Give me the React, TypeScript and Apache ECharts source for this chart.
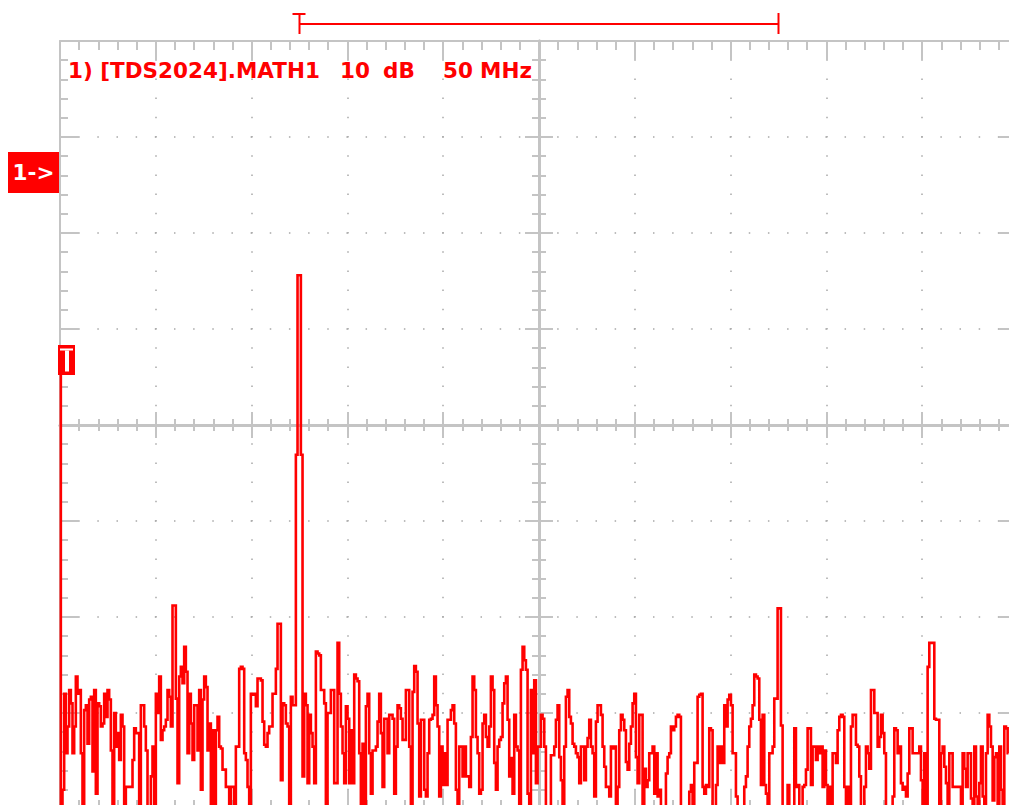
import React, { useEffect, useRef } from 'react';
import * as echarts from 'echarts';

// ---- axis ranges (10 dB/div vertical, 50 MHz/div horizontal) ----
const X_MIN_MHZ = 0;
const X_MAX_MHZ = 500;
const X_DIV_MHZ = 50;
const Y_MIN_DB = -80;
const Y_MAX_DB = 0;
const Y_DIV_DB = 10;
const BIN_MHZ = 0.87; // spacing of the spectrum bins

// ---- FFT magnitude (dB), left to right ----
const seg1 = [
  -32.7, -80, -78, -68.0, -74.2, -71.4, -67.6, -69.0, -74.2, -71.4,
  -66.2, -68.0, -67.6, -74.2, -80, -69.7, -69.2, -73.2, -68.6, -68.3,
  -76.1, -67.6, -78.4, -69.0, -69.3, -71.4, -71.1, -68.0, -70.4, -67.6,
  -68.6, -73.9, -80, -70.0, -73.5, -72.1, -74.9, -70.2, -71.4, -80,
  -77.7, -77.7, -77.7, -77.7, -74.9, -71.6, -72.1, -72.1, -80, -69.2,
  -69.2, -71.4, -73.9, -80, -80, -76.6, -73.5, -80, -68.0, -70.0,
  -66.2, -72.8, -71.8, -71.4, -70.7, -67.6, -68.3, -71.4, -58.8, -58.8,
  -68.5, -77.3, -66.2, -65.2, -66.9, -63.1, -65.7, -74.2, -68.0, -71.1,
  -74.9, -69.2, -69.2, -73.9, -67.6, -78.0, -68.6, -66.2, -67.3, -73.9,
  -71.1, -80, -71.8,
];
const seg2 = [
  -80, -71.8, -70.4, -73.5, -73.7, -75.9, -75.9, -77.7, -77.7, -80,
  -77.7, -77.7, -80, -73.5, -73.5, -65.4, -65.2, -65.4, -74.2, -74.9,
  -77.7, -80, -68.0, -68.1, -68.0, -69.3, -66.4, -66.4, -66.6, -70.9,
  -73.3, -73.5, -72.1, -71.4, -71.4, -68.0, -68.0, -65.4, -60.7, -60.7,
  -77.0, -69.0, -69.2, -71.1, -71.4, -80, -68.3, -69.2, -69.2, -43.1,
  -24.4, -24.4, -43.1, -76.6, -68.0, -69.2, -77.3, -70.2, -72.1, -73.5,
  -77.3, -63.6, -63.8, -64.0, -67.6, -67.6, -69.0, -80, -70.0, -70.0,
  -67.6, -67.6, -77.3, -77.3, -62.7, -68.0, -71.4, -74.2, -77.3, -69.3,
  -70.6, -77.3, -71.8, -77.3, -66.0, -66.4, -66.7, -74.2, -80, -73.2,
  -80, -69.3, -68.0, -74.2, -78.4, -73.9,
];
const seg3 = [
  -73.9, -73.5, -70.9, -68.0, -72.1, -77.7, -70.6, -70.6, -74.2, -70.2,
  -70.2, -70.6, -78.4, -73.5, -69.2, -69.5, -70.6, -72.8, -72.8, -67.6,
  -67.6, -73.5, -80, -67.8, -65.1, -65.7, -71.1, -78.7, -70.7, -70.7,
  -78.0, -78.7, -74.2, -70.7, -70.6, -70.2, -66.2, -69.2, -71.4, -78.7,
  -73.5, -77.5, -74.2, -77.5, -70.7, -70.7, -69.7, -69.2, -71.1, -78.0,
  -80, -73.5, -73.5, -76.6, -73.5, -76.6, -76.6, -77.7, -72.5, -66.2,
  -67.6, -72.5, -74.2, -78.4, -78.0, -71.1, -70.2, -72.5, -73.5, -71.4,
  -66.2, -67.6, -75.2, -78.0, -73.5, -72.8, -72.5, -69.0, -66.9, -66.2,
  -70.7, -76.6, -74.7, -78.4, -70.2, -73.5, -73.9, -80, -65.5, -63.1,
  -64.5, -65.5, -78.4, -80, -67.6, -74.2,
];
const seg4 = [
  -66.6, -77.3, -73.5, -73.5, -70.2, -70.6, -73.5, -80, -80, -80,
  -74.4, -74.4, -73.5, -70.7, -69.2, -74.6, -77.0, -80, -73.5, -68.3,
  -67.6, -70.4, -71.1, -73.2, -73.5, -74.2, -74.6, -77.3, -73.5, -73.5,
  -77.0, -73.5, -72.6, -70.7, -73.5, -74.2, -78.7, -70.9, -69.2, -69.2,
  -70.2, -73.5, -75.6, -77.7, -77.7, -78.7, -73.5, -73.7, -73.5, -80,
  -77.7, -71.8, -70.2, -70.7, -71.8, -75.1, -75.9, -73.2, -71.4, -69.0,
  -68.0, -74.6, -77.3, -70.2, -70.2, -80, -75.8, -77.7, -77.0, -74.2,
  -74.2, -73.5, -78.4, -74.2, -78.7, -78.0, -80, -80, -80, -76.3,
  -74.6, -74.2, -71.4, -71.8, -71.4, -70.4, -70.2, -70.4, -80, -80,
  -80, -80, -80, -78.2, -77.5, -80,
];
const seg5 = [
  -75.2, -75.2, -68.3, -68.1, -68.0, -77.7, -78.4, -77.5, -77.7, -71.6,
  -71.8, -80, -80, -77.5, -73.5, -75.2, -73.5, -75.2, -69.2, -71.4,
  -68.6, -68.1, -69.2, -74.2, -74.2, -78.7, -80, -80, -80, -80,
  -77.7, -76.6, -73.5, -71.4, -70.6, -69.2, -66.0, -66.2, -66.4, -70.7,
  -77.5, -70.2, -77.5, -78.4, -80, -74.2, -74.2, -73.5, -68.5, -68.5,
  -59.1, -59.1, -71.3, -80, -80, -80, -77.5, -80, -80, -80,
  -71.6, -77.7, -77.5, -80, -80, -77.7, -77.5, -75.9, -71.6, -71.6,
  -77.5, -73.5, -73.5, -74.9, -73.5, -74.2, -73.5, -77.7, -73.9, -77.5,
  -80, -77.7, -80, -74.2, -74.2, -75.2, -71.8, -70.4, -70.2, -70.4,
  -77.7, -80, -77.7, -80, -71.4, -70.2,
];
const seg6 = [
  -70.2, -73.3, -73.5, -76.6, -80, -80, -77.7, -73.5, -74.2, -75.8,
  -67.6, -67.6, -70.0, -70.0, -73.5, -72.5, -70.2, -72.1, -74.2, -80,
  -80, -80, -80, -78.7, -71.6, -71.8, -74.2, -73.5, -77.3, -78.0,
  -77.7, -78.7, -76.3, -71.6, -71.6, -74.2, -74.2, -74.2, -74.2, -73.5,
  -77.0, -80, -74.2, -80, -65.2, -62.7, -62.7, -62.7, -70.6, -70.7,
  -70.7, -80, -74.2, -73.5, -75.6, -77.3, -80, -74.2, -74.2, -77.7,
  -77.7, -77.7, -77.7, -77.7, -80, -74.2, -75.8, -77.7, -74.2, -74.2,
  -78.9, -80, -73.5, -78.7, -80, -77.3, -73.5, -78.7, -80, -74.2,
  -70.2, -71.4, -73.5, -79.1, -74.6, -74.2, -80, -73.5, -78.0, -80,
  -71.4, -71.6, -74.2,
];

// ---- labels and cursors ----
const TITLE_TEXTS = ['1) [TDS2024].MATH1', '10', 'dB', '50', 'MHz'];
const CHANNEL_LABEL = '1->';
const CURSOR_MHZ = [125, 375];

const RED = '#ff0000';
const GRID = '#c4c4c4';
const DOT = '#a8a8a8';
const FONT = '"DejaVu Sans", "Liberation Sans", Arial, sans-serif';

const spectrum = [...seg1, ...seg2, ...seg3, ...seg4, ...seg5, ...seg6];

function axis(dim: 'x' | 'y', o: any) {
  const isX = dim === 'x';
  return {
    type: 'value',
    min: isX ? X_MIN_MHZ : Y_MIN_DB,
    max: isX ? X_MAX_MHZ : Y_MAX_DB,
    interval: isX ? X_DIV_MHZ : Y_DIV_DB,
    position: o.position,
    offset: o.offset || 0,
    axisLabel: { show: false },
    axisLine: { show: true, onZero: false, lineStyle: { color: GRID, width: o.lineWidth || 2 } },
    axisTick: { show: true, inside: o.inside, length: o.major, lineStyle: { color: GRID, width: 2 } },
    minorTick: { show: true, splitNumber: 5, length: o.minor, lineStyle: { color: GRID, width: 2 } },
    splitLine: o.dots
      ? { show: true, lineStyle: { color: DOT, width: 1.5, type: o.dots, dashOffset: 0.75 } }
      : { show: false },
    z: 1,
  };
}

export default function App() {
  const ref = useRef<HTMLDivElement>(null);
  useEffect(() => {
    if (!ref.current) return;
    const chart = echarts.init(ref.current, null, { renderer: 'svg' });
    const option: any = {
      animation: false,
      backgroundColor: '#ffffff',
      grid: {
        left: 60,
        top: 41,
        width: 958,
        height: 768,
        show: false,
        containLabel: false,
        outerBoundsMode: 'none',
      },
      xAxis: [
        axis('x', { position: 'bottom', inside: true, major: 19, minor: 9, dots: [1.5, 17.7] }),
        axis('x', { position: 'top', inside: true, major: 19, minor: 9 }),
        axis('x', { position: 'bottom', offset: -384, inside: true, major: 13, minor: 6, lineWidth: 3 }),
        axis('x', { position: 'bottom', offset: -384, inside: false, major: 13, minor: 6, lineWidth: 3 }),
      ],
      yAxis: [
        axis('y', { position: 'left', inside: true, major: 19, minor: 8, dots: [1.5, 17.66] }),
        axis('y', { position: 'right', inside: true, major: 19, minor: 8 }),
        axis('y', { position: 'left', offset: -479, inside: true, major: 14, minor: 7, lineWidth: 3 }),
        axis('y', { position: 'left', offset: -479, inside: false, major: 14, minor: 7, lineWidth: 3 }),
      ],
      series: [
        {
          type: 'line',
          xAxisIndex: 0,
          yAxisIndex: 0,
          data: spectrum.map((v, i) => [i * BIN_MHZ, v]),
          step: 'middle',
          showSymbol: false,
          symbol: 'none',
          clip: true,
          lineStyle: { color: RED, width: 2.6, join: 'miter', miterLimit: 2 },
          z: 5,
        },
      ],
    };
    chart.setOption(option);

    const cx1 = chart.convertToPixel({ xAxisIndex: 0 }, CURSOR_MHZ[0]) as number;
    const cx2 = chart.convertToPixel({ xAxisIndex: 0 }, CURSOR_MHZ[1]) as number;
    const titleX = [68, 340, 383, 443, 480];

    chart.setOption({
      graphic: [
        // cursor bar
        { type: 'line', shape: { x1: cx1, y1: 24, x2: cx2, y2: 24 }, style: { stroke: RED, lineWidth: 2 }, z: 10 },
        { type: 'line', shape: { x1: cx1, y1: 13, x2: cx1, y2: 34 }, style: { stroke: RED, lineWidth: 2 }, z: 10 },
        { type: 'line', shape: { x1: cx1 - 7, y1: 14, x2: cx1 + 6, y2: 14 }, style: { stroke: RED, lineWidth: 2 }, z: 10 },
        { type: 'line', shape: { x1: cx2, y1: 13, x2: cx2, y2: 34 }, style: { stroke: RED, lineWidth: 2 }, z: 10 },
        // title
        ...TITLE_TEXTS.map((t, i) => ({
          type: 'text',
          x: titleX[i],
          y: 70,
          z: 10,
          style: {
            text: t,
            fill: RED,
            font: `bold 21.5px ${FONT}`,
            textAlign: 'left',
            textVerticalAlign: 'middle',
          },
        })),
        // channel marker
        { type: 'rect', shape: { x: 8, y: 152, width: 51, height: 41 }, style: { fill: RED }, z: 10 },
        {
          type: 'text',
          x: 33.5,
          y: 172.5,
          z: 11,
          style: {
            text: CHANNEL_LABEL,
            fill: '#ffffff',
            font: `bold 21.5px ${FONT}`,
            textAlign: 'center',
            textVerticalAlign: 'middle',
          },
        },
        // trigger marker
        { type: 'rect', shape: { x: 58, y: 345, width: 17, height: 30 }, style: { fill: RED }, z: 10 },
        { type: 'rect', shape: { x: 60, y: 348.5, width: 13, height: 2 }, style: { fill: '#ffffff' }, z: 11 },
        { type: 'rect', shape: { x: 65, y: 350.5, width: 4, height: 21 }, style: { fill: '#ffffff' }, z: 11 },
      ],
    });

    return () => chart.dispose();
  }, []);
  return (
    <div
      ref={ref}
      style={{ position: 'absolute', left: 0, top: 0, width: 1009, height: 805, background: '#ffffff' }}
    />
  );
}
